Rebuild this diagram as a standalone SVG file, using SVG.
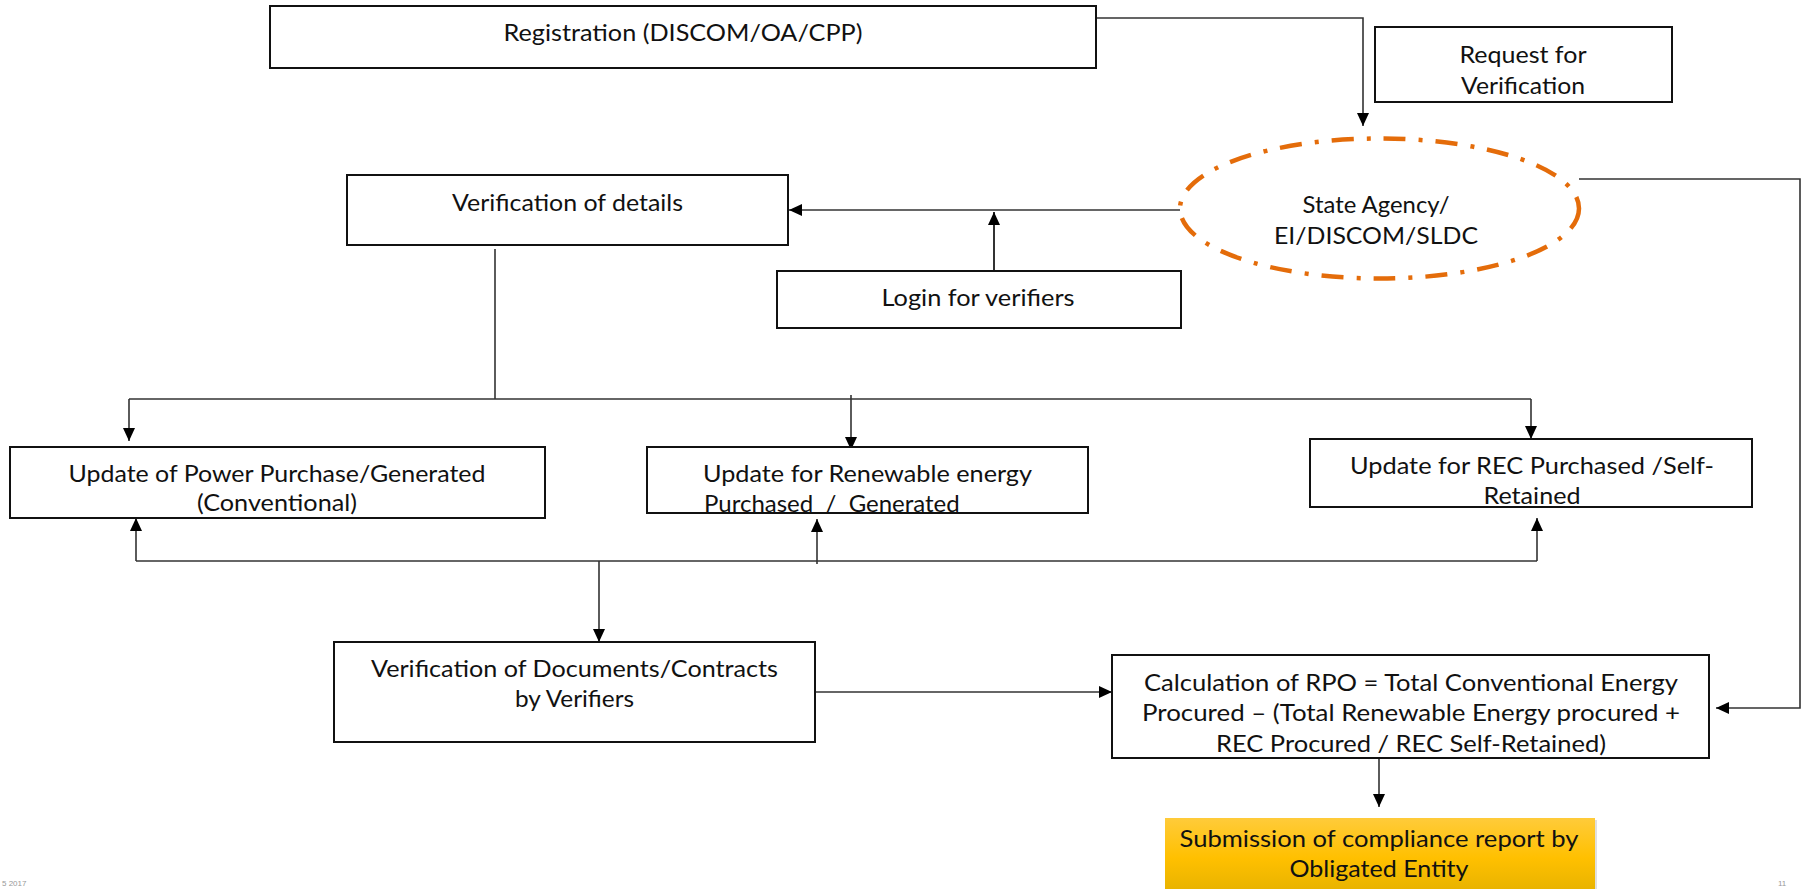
<svg xmlns="http://www.w3.org/2000/svg" width="1802" height="889" viewBox="0 0 1802 889">
<defs>
<style>
.box{fill:#fff;stroke:#111;stroke-width:2}
.t{font-family:Lato,"Liberation Sans",sans-serif;font-size:24px;fill:#111;text-anchor:middle}
.c{fill:none;stroke:#333;stroke-width:1.6}
.ft{font-family:"Liberation Sans",sans-serif;font-size:8px;fill:#999}
</style>
<marker id="ah" markerUnits="userSpaceOnUse" markerWidth="13" markerHeight="12" refX="13" refY="6" orient="auto">
<path d="M0,0 L13,6 L0,12 z" fill="#000"/>
</marker>
<linearGradient id="gold" x1="0" y1="0" x2="0" y2="1">
<stop offset="0" stop-color="#FFCB3A"/>
<stop offset="0.5" stop-color="#FFC000"/>
<stop offset="1" stop-color="#E3B000"/>
</linearGradient>
</defs>
<rect width="1802" height="889" fill="#fff"/>

<g id="connectors">
<path class="c" d="M1096,18 H1363 V126" marker-end="url(#ah)"/>
<path class="c" d="M1180,210 H789" marker-end="url(#ah)"/>
<path class="c" d="M994,271 V212" marker-end="url(#ah)" style="stroke-width:2"/>
<path class="c" d="M495,249 V399"/>
<path class="c" d="M129,399 H1531"/>
<path class="c" d="M129,399 V441" marker-end="url(#ah)"/>
<path class="c" d="M851,395 V450" marker-end="url(#ah)"/>
<path class="c" d="M1531,399 V439" marker-end="url(#ah)"/>
<path class="c" d="M136,561 H1537"/>
<path class="c" d="M136,561 V518" marker-end="url(#ah)"/>
<path class="c" d="M817,564 V519" marker-end="url(#ah)"/>
<path class="c" d="M1537,561 V518" marker-end="url(#ah)"/>
<path class="c" d="M599,561 V642" marker-end="url(#ah)"/>
<path class="c" d="M815,692 H1112" marker-end="url(#ah)"/>
<path class="c" d="M1579,179 H1800 V708 H1716" marker-end="url(#ah)"/>
<path class="c" d="M1379,758 V807" marker-end="url(#ah)"/>
</g>

<g id="registration">
<rect class="box" x="270" y="6" width="826" height="62"/>
<text class="t" x="683" y="41" textLength="359" lengthAdjust="spacingAndGlyphs">Registration (DISCOM/OA/CPP)</text>
</g>

<g id="request">
<rect class="box" x="1375" y="27" width="297" height="75"/>
<text class="t" x="1523" y="63" textLength="127" lengthAdjust="spacingAndGlyphs">Request for</text>
<text class="t" x="1523" y="94" textLength="124" lengthAdjust="spacingAndGlyphs">Verification</text>
</g>

<g id="state-agency">
<ellipse cx="1379.5" cy="208.5" rx="199.5" ry="70" fill="#fff" stroke="#E46C0A" stroke-width="4.5" stroke-dasharray="22 13 4 13"/>
<text class="t" x="1376" y="213" textLength="147" lengthAdjust="spacingAndGlyphs">State Agency/</text>
<text class="t" x="1376" y="244" textLength="204" lengthAdjust="spacingAndGlyphs">EI/DISCOM/SLDC</text>
</g>

<g id="verification-details">
<rect class="box" x="347" y="175" width="441" height="70"/>
<text class="t" x="567.5" y="211" textLength="231" lengthAdjust="spacingAndGlyphs">Verification of details</text>
</g>

<g id="login">
<rect class="box" x="777" y="271" width="404" height="57"/>
<text class="t" x="978" y="306" textLength="193" lengthAdjust="spacingAndGlyphs">Login for verifiers</text>
</g>

<g id="update-power">
<rect class="box" x="10" y="447" width="535" height="71"/>
<text class="t" x="277" y="482" textLength="417" lengthAdjust="spacingAndGlyphs">Update of Power  Purchase/Generated</text>
<text class="t" x="277" y="511" textLength="160" lengthAdjust="spacingAndGlyphs">(Conventional)</text>
</g>

<g id="update-renewable">
<rect class="box" x="647" y="447" width="441" height="66"/>
<text class="t" x="867.5" y="482" textLength="329" lengthAdjust="spacingAndGlyphs">Update for Renewable energy</text>
<text class="t" x="704" y="512" style="text-anchor:start;white-space:pre">Purchased  /  Generated</text>
</g>

<g id="update-rec">
<rect class="box" x="1310" y="439" width="442" height="68"/>
<text class="t" x="1532" y="474" textLength="364" lengthAdjust="spacingAndGlyphs">Update for REC Purchased /Self-</text>
<text class="t" x="1532" y="504" textLength="97" lengthAdjust="spacingAndGlyphs">Retained</text>
</g>

<g id="verification-documents">
<rect class="box" x="334" y="642" width="481" height="100"/>
<text class="t" x="574.5" y="677" textLength="407" lengthAdjust="spacingAndGlyphs">Verification  of Documents/Contracts</text>
<text class="t" x="574.5" y="707" textLength="119" lengthAdjust="spacingAndGlyphs">by Verifiers</text>
</g>

<g id="calculation">
<rect class="box" x="1112" y="655" width="597" height="103"/>
<text class="t" x="1411" y="691" textLength="534" lengthAdjust="spacingAndGlyphs">Calculation of RPO = Total Conventional  Energy</text>
<text class="t" x="1411" y="721" textLength="538" lengthAdjust="spacingAndGlyphs">Procured  – (Total Renewable Energy procured  +</text>
<text class="t" x="1411" y="752" textLength="390" lengthAdjust="spacingAndGlyphs">REC Procured  / REC Self-Retained)</text>
</g>

<g id="submission">
<rect x="1167" y="820" width="430" height="80" fill="#000" opacity="0.12"/>
<rect x="1165" y="818" width="430" height="80" fill="url(#gold)"/>
<text class="t" x="1379" y="847" textLength="399" lengthAdjust="spacingAndGlyphs">Submission of compliance report by</text>
<text class="t" x="1379" y="877" textLength="179" lengthAdjust="spacingAndGlyphs">Obligated Entity</text>
</g>

<text class="ft" x="2" y="886">5 2017</text>
<text class="ft" x="1778" y="886">11</text>
</svg>
